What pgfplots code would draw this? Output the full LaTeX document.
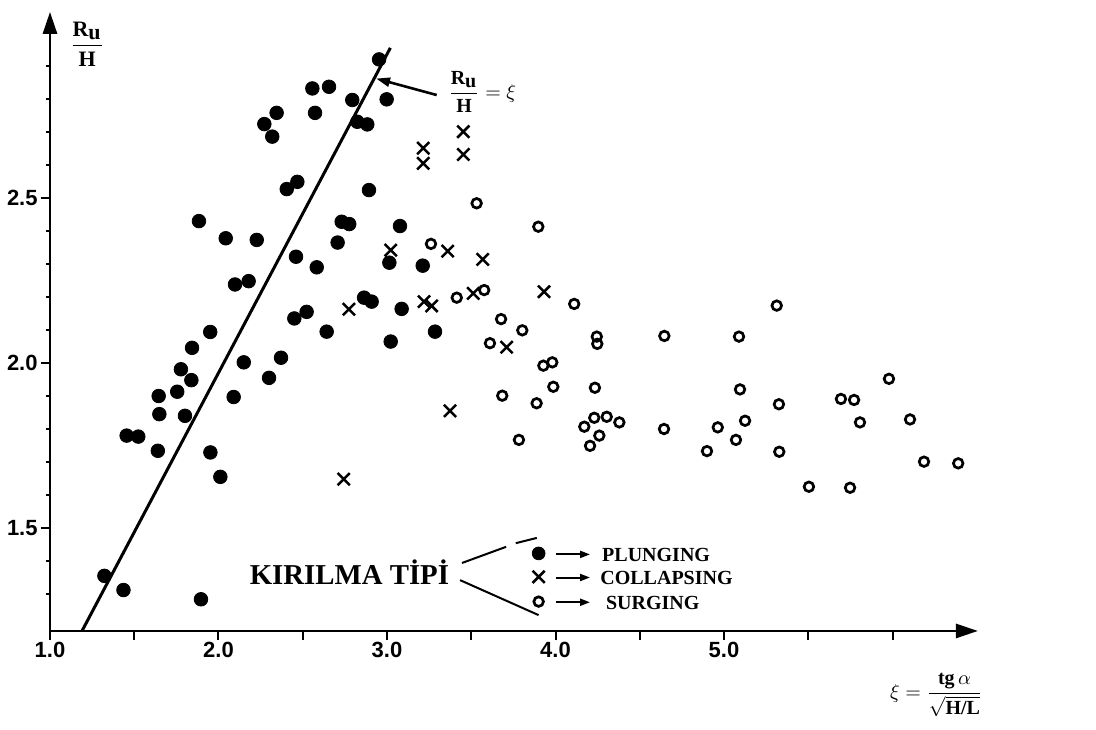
\documentclass[border=0pt]{standalone}
\usepackage{pgfplots}
\pgfplotsset{compat=1.18}
\usepackage{fontspec}
\setmainfont{Liberation Serif}
\setsansfont{Liberation Sans}
\usetikzlibrary{arrows.meta}

\begin{document}
\begin{tikzpicture}
\begin{axis}[
  x=84.25pt, y=165pt,
  xmin=1, xmax=6.507, ymin=1.188, ymax=3.064,
  axis lines=left,
  axis line style={line width=1.4pt, -{Triangle[length=11pt,width=7pt]}},
  clip=false,
  tick align=outside,
  xtick={1,1.5,2,2.5,3,3.5,4,4.5,5,5.5,6},
  xticklabels={1.0,,2.0,,3.0,,4.0,,5.0,,},
  ytick={1.5,2,2.5},
  yticklabels={1.5,2.0,2.5},
  minor ytick={1.3,1.4,1.6,1.7,1.8,1.9,2.1,2.2,2.3,2.4,2.6,2.7,2.8,2.9},
  major tick length=4.5pt,
  minor tick length=2pt,
  every tick/.style={line width=1pt, black},
  tick label style={font=\sffamily\bfseries\fontsize{11}{12}\selectfont},
  xticklabel style={inner sep=0pt, yshift=-1pt},
  yticklabel style={inner sep=1.5pt},
]
% R/H = xi line
\addplot[no markers, line width=1.5pt] coordinates {(1.19,1.188) (3.02,2.955)};

% PLUNGING
\addplot[only marks, mark=*, mark size=3.4pt, black] coordinates {
(2.953,2.920) (2.557,2.832) (2.656,2.837) (2.794,2.797) (2.998,2.799)
(2.573,2.758) (2.824,2.731) (2.883,2.723) (2.345,2.758) (2.272,2.724)
(2.319,2.686) (2.468,2.549) (2.405,2.527) (1.884,2.430) (2.893,2.524)
(2.731,2.428) (2.776,2.421) (3.077,2.415) (2.043,2.378) (2.227,2.373)
(2.460,2.322) (2.098,2.238) (2.179,2.248) (2.450,2.135) (1.951,2.094)
(1.843,2.046) (1.777,1.981) (1.839,1.948) (1.755,1.913) (1.645,1.900)
(1.649,1.845) (1.801,1.840) (1.455,1.780) (1.524,1.777) (2.150,2.002)
(2.371,2.016) (2.300,1.955) (2.090,1.897) (2.707,2.365) (2.583,2.290)
(3.014,2.304) (3.212,2.295) (2.864,2.198) (2.909,2.186) (2.523,2.155)
(3.087,2.164) (2.642,2.095) (3.022,2.065) (3.285,2.095) (1.640,1.734)
(1.952,1.729) (2.011,1.655) (1.323,1.355) (1.436,1.312) (1.896,1.284)
};

% COLLAPSING
\addplot[only marks, mark=x, mark size=4.3pt, line width=1.25pt, black] coordinates {
(3.215,2.651) (3.215,2.605) (3.453,2.701) (3.453,2.632) (3.022,2.342)
(3.360,2.339) (3.568,2.314) (2.774,2.163) (3.220,2.186) (3.265,2.173)
(3.512,2.211) (3.710,2.048) (3.374,1.855) (3.932,2.216) (2.743,1.648)
};

% SURGING
\addplot[only marks, mark=o, mark size=2.4pt, line width=1.35pt, black] coordinates {
(3.532,2.484) (3.261,2.361) (3.898,2.413) (3.414,2.198) (3.577,2.221)
(3.677,2.133) (3.803,2.099) (3.611,2.060) (3.684,1.901) (3.888,1.878)
(3.783,1.767) (4.111,2.179) (4.245,2.080) (4.248,2.058) (4.646,2.082)
(5.089,2.080) (5.313,2.174) (3.981,2.002) (3.928,1.992) (3.987,1.928)
(4.234,1.925) (5.095,1.920) (5.326,1.875) (4.230,1.834) (4.304,1.837)
(4.171,1.807) (4.379,1.820) (4.260,1.780) (4.205,1.749) (4.644,1.800)
(4.963,1.805) (5.125,1.825) (5.071,1.767) (4.899,1.733) (5.328,1.731)
(5.979,1.952) (5.694,1.891) (5.772,1.888) (5.807,1.820) (6.104,1.829)
(6.187,1.701) (6.390,1.696) (5.504,1.625) (5.748,1.622)
};

% legend markers
\addplot[only marks, mark=*, mark size=3.2pt, black, forget plot] coordinates {(3.900,1.423)};
\addplot[only marks, mark=x, mark size=4.3pt, line width=1.25pt, black, forget plot] coordinates {(3.900,1.352)};
\addplot[only marks, mark=o, mark size=2.4pt, line width=1.35pt, black, forget plot] coordinates {(3.900,1.277)};

% legend text and lines
\node[font=\bfseries\fontsize{14.4}{16}\selectfont, inner sep=0pt] at (axis cs:2.777,1.365) {KIRILMA TİPİ};
\draw[line width=1pt] (axis cs:3.445,1.394) -- (axis cs:3.707,1.443);
\draw[line width=1pt] (axis cs:3.764,1.454) -- (axis cs:3.889,1.470);
\draw[line width=1pt] (axis cs:3.434,1.342) -- (axis cs:3.900,1.236);
\draw[line width=1pt, -{Triangle[length=5pt,width=3.5pt]}] (axis cs:4.003,1.420) -- (axis cs:4.205,1.420);
\draw[line width=1pt, -{Triangle[length=5pt,width=3.5pt]}] (axis cs:4.003,1.350) -- (axis cs:4.205,1.350);
\draw[line width=1pt, -{Triangle[length=5pt,width=3.5pt]}] (axis cs:4.003,1.275) -- (axis cs:4.205,1.275);
\node[anchor=west, font=\bfseries\fontsize{10}{12}\selectfont, inner sep=0pt] at (axis cs:4.275,1.418) {PLUNGING};
\node[anchor=west, font=\bfseries\fontsize{10}{12}\selectfont, inner sep=0pt] at (axis cs:4.264,1.348) {COLLAPSING};
\node[anchor=west, font=\bfseries\fontsize{10}{12}\selectfont, inner sep=0pt] at (axis cs:4.298,1.273) {SURGING};

% axis labels
\node[font=\fontsize{11}{13}\selectfont, inner sep=0pt] at (axis cs:1.22,2.966) {$\displaystyle\frac{\textbf{R}_{\textbf{u}}}{\textbf{H}}$};
\node[font=\fontsize{10}{12}\selectfont, inner sep=0pt] at (axis cs:6.26,0.994) {$\xi=\displaystyle\frac{\textbf{tg}\,\alpha}{\sqrt{\textbf{H/L}}}$};

% annotation of the line
\node[anchor=west, font=\fontsize{10}{12}\selectfont, inner sep=0pt] at (axis cs:3.362,2.821) {$\displaystyle\frac{\textbf{R}_{\textbf{u}}}{\textbf{H}}=\xi$};
\draw[line width=1.3pt, -{Triangle[length=7pt,width=4.5pt]}] (axis cs:3.295,2.812) -- (axis cs:2.935,2.862);

\coordinate (bl) at (axis cs:0.7033,0.8909);
\coordinate (tr) at (axis cs:7.2077,3.1);
\end{axis}
\pgfresetboundingbox
\path[use as bounding box] (bl) rectangle (tr);
\end{tikzpicture}
\end{document}
